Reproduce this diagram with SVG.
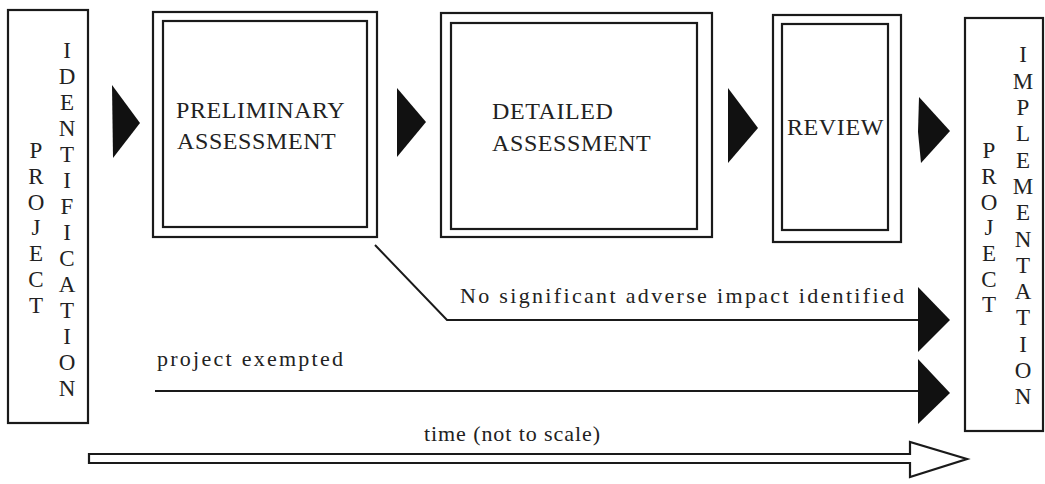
<svg xmlns="http://www.w3.org/2000/svg" width="1045" height="484" viewBox="0 0 1045 484">
<style>
  .bx { fill: none; stroke: #1a1a1a; stroke-width: 2.2; }
  .ln { fill: none; stroke: #1a1a1a; stroke-width: 2; }
  .hd { fill: #111; stroke: none; }
  .t { font-family: "Liberation Serif", "DejaVu Serif", serif; fill: #222; }
  .cap { font-size: 24px; letter-spacing: 0.6px; }
  .v { font-size: 23px; text-anchor: middle; }
  .lab { font-size: 22px; }
</style>
<rect width="1045" height="484" fill="#ffffff"/>

<g id="project-identification">
  <rect class="bx" x="8" y="10" width="80" height="413"/>
  <g class="t v">
    <text x="36" y="158">P</text>
    <text x="36" y="184">R</text>
    <text x="36" y="210">O</text>
    <text x="36" y="235">J</text>
    <text x="36" y="261">E</text>
    <text x="36" y="287">C</text>
    <text x="36" y="313">T</text>
  </g>
  <g class="t v">
    <text x="67" y="58">I</text>
    <text x="67" y="84">D</text>
    <text x="67" y="110">E</text>
    <text x="67" y="136">N</text>
    <text x="67" y="162">T</text>
    <text x="67" y="188">I</text>
    <text x="67" y="214">F</text>
    <text x="67" y="240">I</text>
    <text x="67" y="266">C</text>
    <text x="67" y="292">A</text>
    <text x="67" y="318">T</text>
    <text x="67" y="344">I</text>
    <text x="67" y="370">O</text>
    <text x="67" y="396">N</text>
  </g>
</g>

<g id="preliminary-assessment">
  <rect class="bx" x="153" y="12" width="224" height="225"/>
  <rect class="bx" x="163" y="21" width="204" height="206"/>
  <text class="t cap" x="176" y="118">PRELIMINARY</text>
  <text class="t cap" x="177" y="149">ASSESSMENT</text>
</g>

<g id="detailed-assessment">
  <rect class="bx" x="441" y="13" width="271" height="224"/>
  <rect class="bx" x="451" y="23" width="246" height="206"/>
  <text class="t cap" x="492" y="119">DETAILED</text>
  <text class="t cap" x="492" y="151">ASSESSMENT</text>
</g>

<g id="review">
  <rect class="bx" x="773" y="15" width="128" height="227"/>
  <rect class="bx" x="782" y="24" width="106" height="206"/>
  <text class="t cap" x="787" y="135" letter-spacing="0">REVIEW</text>
</g>

<g id="project-implementation">
  <rect class="bx" x="965" y="18" width="78" height="413"/>
  <g class="t v">
    <text x="989" y="158">P</text>
    <text x="989" y="184">R</text>
    <text x="989" y="210">O</text>
    <text x="989" y="235">J</text>
    <text x="989" y="261">E</text>
    <text x="989" y="287">C</text>
    <text x="989" y="312">T</text>
  </g>
  <g class="t v">
    <text x="1023" y="62">I</text>
    <text x="1023" y="89">M</text>
    <text x="1023" y="115">P</text>
    <text x="1023" y="141">L</text>
    <text x="1023" y="168">E</text>
    <text x="1023" y="194">M</text>
    <text x="1023" y="220">E</text>
    <text x="1023" y="247">N</text>
    <text x="1023" y="273">T</text>
    <text x="1023" y="299">A</text>
    <text x="1023" y="325">T</text>
    <text x="1023" y="352">I</text>
    <text x="1023" y="378">O</text>
    <text x="1023" y="404">N</text>
  </g>
</g>

<g id="connectors">
  <polygon class="hd" points="112,85 140,123 113,158"/>
  <polygon class="hd" points="397,88 426,122 397,157"/>
  <polygon class="hd" points="728,88 758,128 728,163"/>
  <polygon class="hd" points="919,97 950,131 921,163 918,132"/>
  <polyline class="ln" points="375,245 447,320 920,320"/>
  <polygon class="hd" points="918,287 950,320 918,352"/>
  <text class="t lab" x="460" y="303" textLength="444" lengthAdjust="spacing">No significant adverse impact identified</text>
  <line class="ln" x1="155" y1="391" x2="920" y2="391"/>
  <polygon class="hd" points="918,359 950,393 918,424"/>
  <text class="t lab" x="157" y="366" textLength="186" lengthAdjust="spacing">project exempted</text>
  <polygon class="bx" points="89,454 910,454 910,442 967,459 910,477 910,463 89,463"/>
  <text class="t lab" x="424" y="441" textLength="176" lengthAdjust="spacing">time (not to scale)</text>
</g>
</svg>
